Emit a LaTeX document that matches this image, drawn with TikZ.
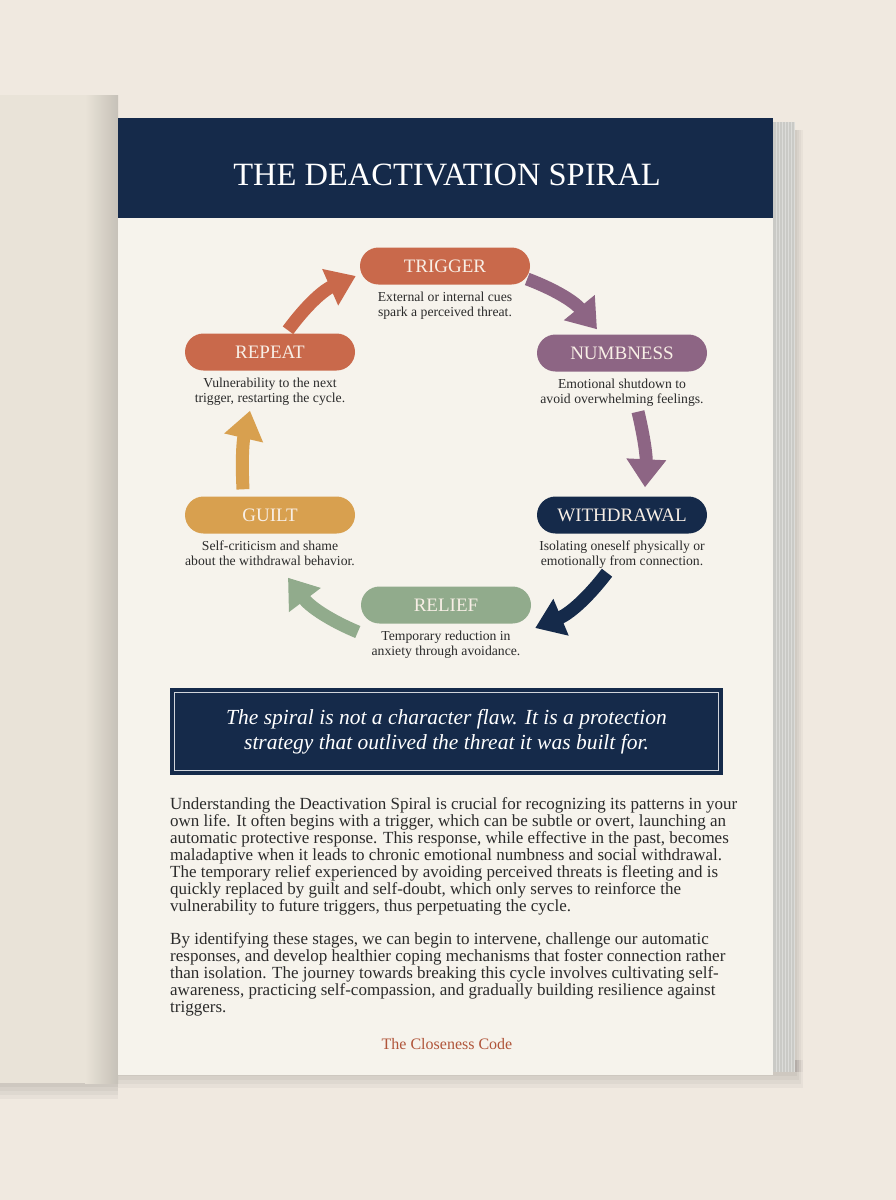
\documentclass[tikz,border=0pt]{standalone}
\usepackage{fontspec}
\setmainfont{Liberation Serif}
\usepackage{xcolor}
\usetikzlibrary{positioning}
\usetikzlibrary{arrows.meta}

\definecolor{backdrop}{HTML}{F0E9E0}
\definecolor{leftpage}{HTML}{E9E3D8}
\definecolor{paper}{HTML}{F6F3EC}
\definecolor{stack}{HTML}{CACAC6}
\definecolor{navy}{HTML}{152A4A}
\definecolor{terra}{HTML}{C9694B}
\definecolor{mauve}{HTML}{8D6584}
\definecolor{sage}{HTML}{91AB8C}
\definecolor{mustard}{HTML}{D8A04F}
\definecolor{pilltext}{HTML}{F8EFE6}
\definecolor{ink}{HTML}{2B2B2B}
\definecolor{footer}{HTML}{B0553A}

\begin{document}
\begin{tikzpicture}[x=1pt, y=1pt,
    stage/.style={rectangle, rounded corners=18.5pt, minimum width=170pt,
      minimum height=37pt, inner sep=0pt, text=pilltext,
      font=\fontsize{19}{22}\selectfont},
    desc/.style={align=center, inner sep=0pt, text=ink,
      font=\fontsize{13.7}{15}\selectfont},
    flow/.style={line width=13pt, -{Triangle[width=38pt, length=28pt]}},
  ]
  \useasboundingbox (0,0) rectangle (896,-1200);
  \fill[backdrop] (0,0) rectangle (896,-1200);

  % Shadow under the book
  \foreach \s in {4,8,12,16} {
    \fill[black, opacity=0.035] (-5,-1070) rectangle (118,-1083-\s);
    \fill[black, opacity=0.035] (118,-1060) rectangle (795+\s/2,-1072-\s);
    \fill[black, opacity=0.03] (790,-130) rectangle (795+\s/2,-1072);
  }

  % Left page
  \fill[leftpage] (-5,-95) rectangle (118,-1083);
  \shade[left color=leftpage, right color=leftpage!85!black] (85,-95) rectangle (118,-1083);

  % Page stack
  \fill[stack] (773,-122) rectangle (795,-1072);
  \foreach \x in {776,779,...,794}
    \draw[white, opacity=0.35, line width=0.5pt] (\x,-122) -- (\x,-1072);

  % Right page and header
  \fill[paper] (118,-118) rectangle (773,-1075);
  \fill[navy] (118,-118) rectangle (773,-218);
  \node[text=white, font=\fontsize{32.5}{36}\selectfont] (title) at (447,-175) {THE DEACTIVATION SPIRAL};

  % Stages
  \node[stage, fill=terra] (trigger) at (445,-266) {TRIGGER};
  \node[stage, fill=mauve] (numb) at (622,-353) {NUMBNESS};
  \node[stage, fill=navy] (withdraw) at (622,-515) {WITHDRAWAL};
  \node[stage, fill=sage] (relief) at (446,-605) {RELIEF};
  \node[stage, fill=mustard] (guilt) at (270,-515) {GUILT};
  \node[stage, fill=terra] (repeat) at (270,-352) {REPEAT};

  % Descriptions under each stage
  \node[desc, below=7pt of trigger] (triggertxt) {External or internal cues\\spark a perceived threat.};
  \node[desc, below=7pt of numb] (numbtxt) {Emotional shutdown to\\avoid overwhelming feelings.};
  \node[desc, below=7pt of withdraw] (withdrawtxt) {Isolating oneself physically or\\emotionally from connection.};
  \node[desc, below=7pt of relief] (relieftxt) {Temporary reduction in\\anxiety through avoidance.};
  \node[desc, below=7pt of guilt] (guilttxt) {Self-criticism and shame\\about the withdrawal behavior.};
  \node[desc, below=7pt of repeat] (repeattxt) {Vulnerability to the next\\trigger, restarting the cycle.};

  % Cycle arrows
  \draw[flow, mauve] ([shift={(-3,-13)}]trigger.east) to[bend left=15] ([shift={(-25,5)}]numb.north);
  \draw[flow, mauve] ([shift={(16,-40)}]numb.south) to[bend left=8] ([shift={(23,9)}]withdraw.north);
  \draw[flow, navy] ([shift={(-15,-39)}]withdraw.south) to[bend left=15] ([shift={(4,-23)}]relief.east);
  \draw[flow, sage] ([shift={(-3,-27)}]relief.west) to[bend left=15] ([shift={(18,-44)}]guilt.south);
  \draw[flow, mustard] ([shift={(-27,7)}]guilt.north) to[bend left=8] ([shift={(-20,-40)}]repeat.south);
  \draw[flow, terra] ([shift={(18,3)}]repeat.north) to[bend left=15] ([shift={(-4,-10)}]trigger.west);

  % Quote box
  \node[fill=navy, minimum width=553pt, minimum height=87pt, inner sep=0pt] (quote) at (446.5,-731.5) {};
  \draw[white!80!navy, line width=0.8pt] ([shift={(5,-5)}]quote.north west) rectangle ([shift={(-5,5)}]quote.south east);
  \node[text=white, align=center, font=\itshape\fontsize{21.5}{25}\selectfont] (quotetxt) at (quote.center)
    {The spiral is not a character flaw. It is a protection\\strategy that outlived the threat it was built for.};

  % Body text
  \node[anchor=north west, inner sep=0pt, align=left, text=ink, font=\fontsize{17}{17}\selectfont] (body) at (170,-797) {%
    Understanding the Deactivation Spiral is crucial for recognizing its patterns in your\\
    own life. It often begins with a trigger, which can be subtle or overt, launching an\\
    automatic protective response. This response, while effective in the past, becomes\\
    maladaptive when it leads to chronic emotional numbness and social withdrawal.\\
    The temporary relief experienced by avoiding perceived threats is fleeting and is\\
    quickly replaced by guilt and self-doubt, which only serves to reinforce the\\
    vulnerability to future triggers, thus perpetuating the cycle.\\[16pt]
    By identifying these stages, we can begin to intervene, challenge our automatic\\
    responses, and develop healthier coping mechanisms that foster connection rather\\
    than isolation. The journey towards breaking this cycle involves cultivating self-\\
    awareness, practicing self-compassion, and gradually building resilience against\\
    triggers.};

  \node[text=footer, font=\fontsize{16}{18}\selectfont] (footer) at (447,-1044) {The Closeness Code};
\end{tikzpicture}
\end{document}
